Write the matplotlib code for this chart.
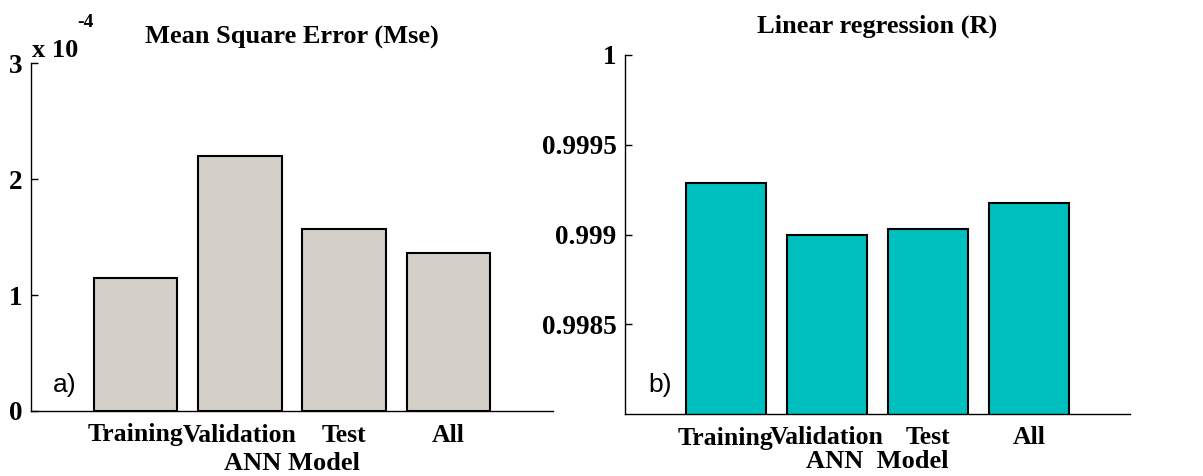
import matplotlib
matplotlib.use("Agg")
import matplotlib.pyplot as plt

# Data
categories = ["Training", "Validation", "Test", "All"]
mse_values = [1.15e-4, 2.20e-4, 1.57e-4, 1.36e-4]
r_values = [0.999287, 0.999000, 0.999028, 0.999178]
mse_ticks = [0, 1, 2, 3]
r_ticks = [0.9985, 0.999, 0.9995, 1.0]
r_tick_labels = ["0.9985", "0.999", "0.9995", "1"]

SERIF = "Liberation Serif"
SANS = "Liberation Sans"
FS = 19

fig = plt.figure(figsize=(12.03, 4.76), dpi=100)
W, H = 1203, 476


def px_axes(x0, y_top, x1, y_bot):
    return fig.add_axes([x0 / W, 1 - y_bot / H, (x1 - x0) / W, (y_bot - y_top) / H])


def style(ax, xpad):
    for s in ("top", "right"):
        ax.spines[s].set_visible(False)
    for s in ("left", "bottom"):
        ax.spines[s].set_linewidth(1.0)
    ax.tick_params(axis="y", direction="in", length=5, width=1.0, pad=6)
    ax.tick_params(axis="x", length=0, pad=xpad)
    for lbl in ax.get_yticklabels():
        lbl.set_fontfamily(SERIF)
        lbl.set_fontweight("bold")
        lbl.set_fontsize(19.5)
    for lbl in ax.get_xticklabels():
        lbl.set_fontfamily(SERIF)
        lbl.set_fontweight("bold")
        lbl.set_fontsize(18.5)


positions = list(range(1, len(categories) + 1))

# a) Mean square error
ax1 = px_axes(31, 63, 553, 411)
scale = 1e-4
ax1.bar(positions, [v / scale for v in mse_values], width=0.8,
        color="#D4D0C8", edgecolor="black", linewidth=1.5)
ax1.set_xlim(0, 5)
ax1.set_ylim(0, 3)
ax1.set_yticks(mse_ticks)
ax1.set_yticklabels([str(t) for t in mse_ticks])
ax1.set_xticks(positions)
ax1.set_xticklabels(categories)
style(ax1, 9)
ax1.set_title("Mean Square Error (Mse)", fontfamily=SERIF, fontweight="bold",
              fontsize=FS, pad=14)
ax1.set_xlabel("ANN Model", fontfamily=SERIF, fontweight="bold", fontsize=FS,
               labelpad=4)
ax1.text(0.042, 0.075, "a)", transform=ax1.transAxes, fontfamily=SANS,
         fontsize=19, va="center", ha="left")
fig.text(32 / W, 1 - 57 / H, "x 10", fontfamily=SERIF, fontweight="bold",
         fontsize=FS, ha="left", va="baseline")
fig.text(77 / W, 1 - 27 / H, "-4", fontfamily=SERIF, fontweight="bold",
         fontsize=14, ha="left", va="baseline")

# b) Linear regression
ax2 = px_axes(625, 55, 1130, 414)
ax2.bar(positions, r_values, width=0.8, color="#00BFBF",
        edgecolor="black", linewidth=1.5)
ax2.set_xlim(0, 5)
ax2.set_ylim(0.998, 1.0)
ax2.set_yticks(r_ticks)
ax2.set_yticklabels(r_tick_labels)
ax2.set_xticks(positions)
ax2.set_xticklabels(categories)
style(ax2, 9)
ax2.set_title("Linear regression (R)", fontfamily=SERIF, fontweight="bold",
              fontsize=FS, pad=16)
ax2.set_xlabel("ANN  Model", fontfamily=SERIF, fontweight="bold", fontsize=FS,
               labelpad=0)
ax2.text(0.046, 0.08, "b)", transform=ax2.transAxes, fontfamily=SANS,
         fontsize=19, va="center", ha="left")

fig.savefig("out.png", dpi=100)
